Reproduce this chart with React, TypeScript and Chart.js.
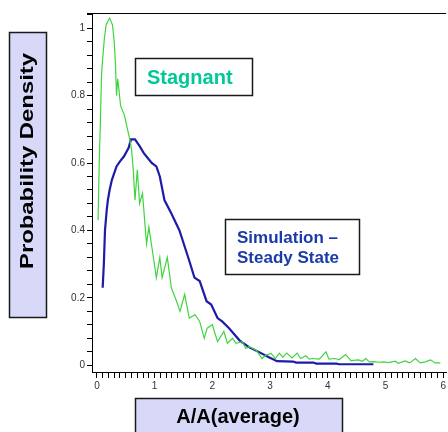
import React, { useEffect, useRef } from "react";
import { Chart, registerables } from "chart.js";

Chart.register(...registerables);

const stagnantX = [0.02, 0.04, 0.06, 0.08, 0.10, 0.13, 0.16, 0.22, 0.27, 0.30, 0.32, 0.34, 0.36, 0.38, 0.41, 0.48, 0.53, 0.57, 0.60, 0.63, 0.66, 0.70, 0.74, 0.79, 0.86, 0.90, 0.97, 1.03, 1.09, 1.13, 1.22, 1.29, 1.38, 1.44, 1.52, 1.60, 1.70, 1.78, 1.86, 1.91, 2.00, 2.09, 2.20, 2.26, 2.35, 2.41, 2.52, 2.58, 2.64, 2.76, 2.86, 2.93, 3.02, 3.09, 3.16, 3.22, 3.29, 3.38, 3.47, 3.53, 3.62, 3.68, 3.73, 3.85, 3.97, 4.02, 4.12, 4.20, 4.31, 4.40, 4.53, 4.60, 4.66, 4.72, 4.80, 4.88, 4.97, 5.05, 5.17, 5.22, 5.34, 5.42, 5.52, 5.60, 5.69, 5.78, 5.86, 5.95];
const stagnantY = [0.43, 0.60, 0.72, 0.86, 0.91, 0.97, 1.01, 1.03, 1.01, 0.96, 0.90, 0.80, 0.85, 0.82, 0.77, 0.74, 0.70, 0.67, 0.64, 0.58, 0.49, 0.58, 0.48, 0.51, 0.36, 0.41, 0.33, 0.26, 0.32, 0.26, 0.32, 0.23, 0.19, 0.16, 0.21, 0.14, 0.15, 0.13, 0.08, 0.11, 0.12, 0.07, 0.10, 0.065, 0.08, 0.065, 0.07, 0.05, 0.055, 0.045, 0.02, 0.03, 0.035, 0.02, 0.036, 0.024, 0.036, 0.022, 0.036, 0.02, 0.028, 0.018, 0.02, 0.018, 0.04, 0.018, 0.02, 0.017, 0.032, 0.014, 0.016, 0.012, 0.02, 0.01, 0.011, 0.009, 0.01, 0.008, 0.012, 0.006, 0.013, 0.007, 0.02, 0.007, 0.01, 0.016, 0.007, 0.007];

const steadyX = [0.10, 0.12, 0.14, 0.17, 0.19, 0.22, 0.26, 0.30, 0.34, 0.40, 0.47, 0.55, 0.59, 0.66, 0.74, 0.81, 0.88, 0.95, 1.03, 1.09, 1.17, 1.29, 1.43, 1.60, 1.69, 1.78, 1.90, 1.98, 2.09, 2.17, 2.29, 2.47, 2.64, 2.81, 2.98, 3.12, 3.40, 3.45, 3.75, 3.80, 4.15, 4.20, 4.79];
const steadyY = [0.23, 0.30, 0.40, 0.46, 0.49, 0.52, 0.55, 0.57, 0.59, 0.605, 0.62, 0.645, 0.67, 0.67, 0.65, 0.63, 0.615, 0.60, 0.59, 0.56, 0.49, 0.45, 0.40, 0.31, 0.26, 0.25, 0.19, 0.18, 0.14, 0.13, 0.11, 0.074, 0.053, 0.039, 0.024, 0.012, 0.011, 0.008, 0.008, 0.005, 0.005, 0.003, 0.003];

const stagnantLabel = "Stagnant";
const steadyLabel = ["Simulation –", "Steady State"];
const yTitle = "Probability Density";
const xTitle = "A/A(average)";

const FONT = '"Liberation Sans", Arial, Helvetica, sans-serif';

function drawBox(ctx: CanvasRenderingContext2D, x: number, y: number, w: number, h: number, fill: string) {
  ctx.fillStyle = fill;
  ctx.fillRect(x, y, w, h);
  ctx.strokeStyle = "#1a1a1a";
  ctx.lineWidth = 1.5;
  ctx.strokeRect(x, y, w, h);
}

const overlayPlugin = {
  id: "overlay",
  afterDraw(chart: any) {
    const ctx: CanvasRenderingContext2D = chart.ctx;
    const { top, left, right } = chart.chartArea;
    ctx.save();
    // top frame line
    ctx.strokeStyle = "#000";
    ctx.lineWidth = 1;
    ctx.beginPath();
    ctx.moveTo(left - 5, Math.round(top) + 0.5);
    ctx.lineTo(right, Math.round(top) + 0.5);
    ctx.stroke();

    // Stagnant label box
    drawBox(ctx, 135.5, 58.5, 117, 37, "#ffffff");
    ctx.fillStyle = "#00c896";
    ctx.font = `bold 20px ${FONT}`;
    ctx.textAlign = "left";
    ctx.textBaseline = "alphabetic";
    ctx.fillText(stagnantLabel, 147, 84);

    // Simulation label box
    drawBox(ctx, 225.5, 219.5, 134, 55, "#ffffff");
    ctx.fillStyle = "#1a3aa8";
    ctx.font = `bold 17px ${FONT}`;
    ctx.fillText(steadyLabel[0], 237, 243);
    ctx.fillText(steadyLabel[1], 237, 263);

    // Y title box
    drawBox(ctx, 9.5, 32.5, 37, 285, "#d8d8f8");
    ctx.save();
    ctx.translate(28, 161);
    ctx.rotate(-Math.PI / 2);
    ctx.font = `bold 19px ${FONT}`;
    const w = ctx.measureText(yTitle).width;
    ctx.scale(216 / w, 1);
    ctx.fillStyle = "#000";
    ctx.textAlign = "center";
    ctx.textBaseline = "middle";
    ctx.fillText(yTitle, 0, 0);
    ctx.restore();

    // X title box
    drawBox(ctx, 135.5, 398.5, 207, 40, "#d8d8f8");
    ctx.fillStyle = "#000";
    ctx.font = `bold 20px ${FONT}`;
    ctx.textAlign = "center";
    ctx.textBaseline = "alphabetic";
    ctx.fillText(xTitle, 238, 423);
    ctx.restore();
  },
};

function isMultiple(v: number, step: number) {
  return Math.abs(v / step - Math.round(v / step)) < 1e-6;
}

export default function App() {
  const ref = useRef<HTMLCanvasElement | null>(null);
  useEffect(() => {
    document.body.style.margin = "0";
    if (!ref.current) return;
    const chart = new Chart(ref.current, {
      type: "line",
      data: {
        datasets: [
          {
            label: stagnantLabel,
            data: stagnantX.map((x, i) => ({ x, y: stagnantY[i] })),
            borderColor: "#3fd43f",
            borderWidth: 1.2,
            pointRadius: 0,
            tension: 0,
            fill: false,
          },
          {
            label: steadyLabel.join(" "),
            data: steadyX.map((x, i) => ({ x, y: steadyY[i] })),
            borderColor: "#1c1ca8",
            borderWidth: 2.2,
            pointRadius: 0,
            tension: 0,
            fill: false,
          },
        ],
      },
      options: {
        animation: false,
        responsive: false,
        layout: { padding: { top: 13, left: 0, right: 0, bottom: 0 } },
        plugins: {
          legend: { display: false },
          tooltip: { enabled: false },
        },
        scales: {
          x: {
            type: "linear",
            min: -0.085,
            max: 6.05,
            afterFit: (s: any) => {
              s.height = 60;
            },
            grid: {
              drawOnChartArea: false,
              drawTicks: true,
              tickLength: 6,
              color: "#000",
            },
            border: { display: true, color: "#000", width: 1 },
            ticks: {
              stepSize: 0.1,
              autoSkip: false,
              includeBounds: false,
              maxRotation: 0,
              padding: 2,
              color: "#333",
              font: { family: FONT, size: 10 },
              callback: (v: any) => (isMultiple(Number(v), 1) ? String(Math.round(Number(v))) : ""),
            },
          },
          y: {
            type: "linear",
            min: -0.02,
            max: 1.045,
            afterFit: (s: any) => {
              s.width = 92;
            },
            grid: {
              drawOnChartArea: false,
              drawTicks: true,
              tickLength: 5,
              color: "#000",
            },
            border: { display: true, color: "#000", width: 1 },
            ticks: {
              stepSize: 0.04,
              autoSkip: false,
              includeBounds: false,
              padding: 2,
              color: "#333",
              font: { family: FONT, size: 10 },
              callback: (v: any) => {
                const n = Number(v);
                if (!isMultiple(n, 0.2)) return "";
                const r = Math.round(n * 10) / 10;
                return String(r);
              },
            },
          },
        },
      },
      plugins: [overlayPlugin],
    } as any);
    return () => chart.destroy();
  }, []);
  return (
    <div style={{ position: "absolute", left: 0, top: 0, width: 448, height: 432, background: "#fff" }}>
      <canvas ref={ref} width={448} height={432} style={{ display: "block" }} />
    </div>
  );
}
